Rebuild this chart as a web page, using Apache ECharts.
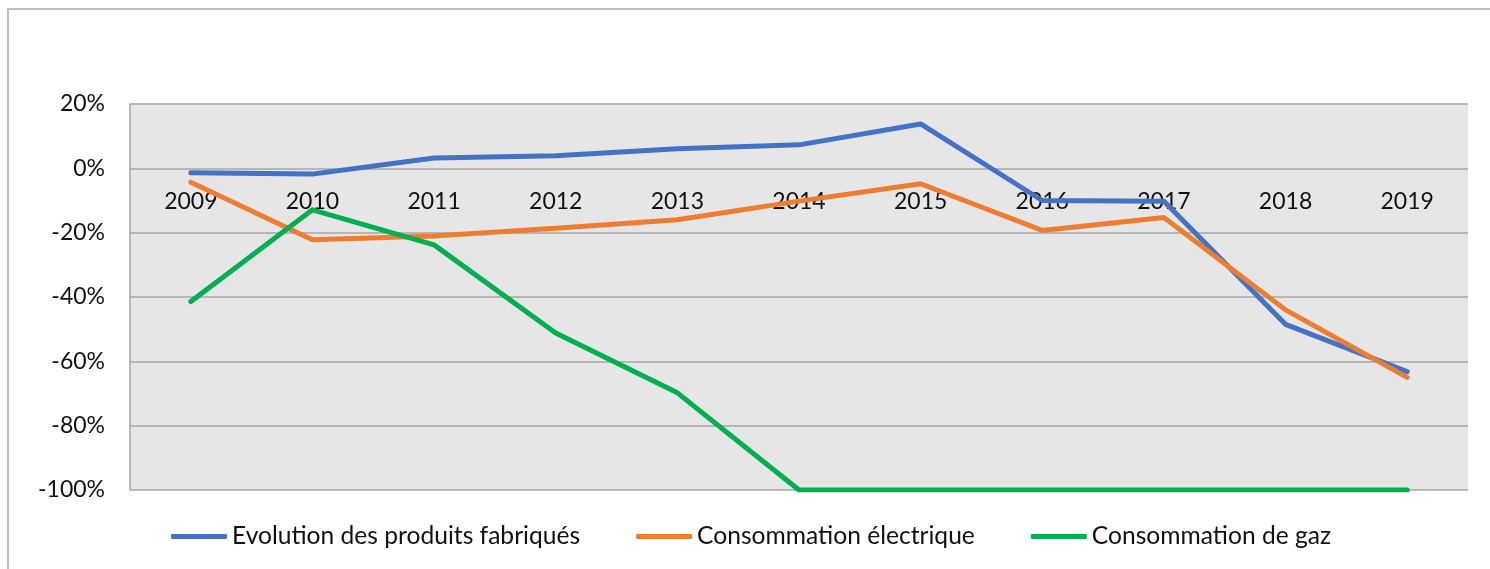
<!DOCTYPE html>
<html>
<head>
<meta charset="utf-8">
<script src="https://cdn.jsdelivr.net/npm/echarts@6/dist/echarts.min.js"></script>
<style>
	html, body { margin: 0; padding: 0; background: #fff; }
	#cadre { position: absolute; left: 7px; top: 8px; width: 1500px; height: 580px; border: 2px solid #BFBFBF; box-sizing: border-box; }
	#chart { position: absolute; left: 0; top: 0; width: 1490px; height: 569px; }
</style>
</head>
<body>
<div id="cadre"></div>
<div id="chart"></div>
<script>
/*données*/
var annees = ['2009', '2010', '2011', '2012', '2013', '2014', '2015', '2016', '2017', '2018', '2019'];
var produits = [-1.4, -1.8, 3.2, 3.9, 6.1, 7.3, 13.8, -10, -10.2, -48.5, -63.2];
var electrique = [-4.3, -22.2, -21, -18.6, -16, -10.2, -4.8, -19.3, -15.3, -44, -65];
var gaz = [-41.4, -12.9, -23.8, -51.2, -69.8, -100, -100, -100, -100, -100, -100];
var ticksY = [-100, -80, -60, -40, -20, 0, 20];

var police = 'Lato, "Noto Sans", sans-serif';
var hauteurGrille = 386;

function serie(nom, data, couleur) {
	return {
		name: nom,
		type: 'line',
		data: data,
		symbol: 'none',
		lineStyle: { width: 5, color: couleur, cap: 'round', join: 'round' },
		itemStyle: { color: couleur }
	};
}

var myChart = echarts.init(document.getElementById('chart'));

// l'axe des années est posé sur la ligne 0 %
var yMin = ticksY[0], yMax = ticksY[ticksY.length - 1];
var decalage = -hauteurGrille * (0 - yMin) / (yMax - yMin);

var option = {
	animation: false,
	grid: {
		left: 130, top: 104, width: 1338, height: hauteurGrille,
		show: true, backgroundColor: '#E6E6E6', borderWidth: 0
	},
	legend: {
		bottom: 15,
		left: 166,
		itemWidth: 56,
		itemHeight: 5,
		itemGap: 56,
		icon: 'roundRect',
		textStyle: { fontFamily: police, fontSize: 24.6, color: '#111' },
		data: ['Evolution des produits fabriqués', 'Consommation électrique', 'Consommation de gaz']
	},
	xAxis: {
		type: 'category',
		data: annees,
		boundaryGap: true,
		offset: decalage,
		axisLine: { show: false, onZero: false },
		axisTick: { show: false },
		axisLabel: { margin: 22, fontFamily: police, fontSize: 23, color: '#111' },
		splitLine: { show: false }
	},
	yAxis: {
		type: 'value',
		min: yMin,
		max: yMax,
		interval: 20,
		axisLine: { show: true, lineStyle: { color: '#A6A6A6', width: 1.5 } },
		axisTick: { show: false },
		axisLabel: { margin: 25, formatter: '{value}%', fontFamily: police, fontSize: 23, color: '#111' },
		splitLine: { show: true, lineStyle: { color: '#A6A6A6', width: 1.5 } }
	},
	series: [
		serie('Evolution des produits fabriqués', produits, '#4472C4'),
		serie('Consommation électrique', electrique, '#ED7D31'),
		serie('Consommation de gaz', gaz, '#00B050')
	]
};

myChart.setOption(option);
</script>
</body>
</html>
